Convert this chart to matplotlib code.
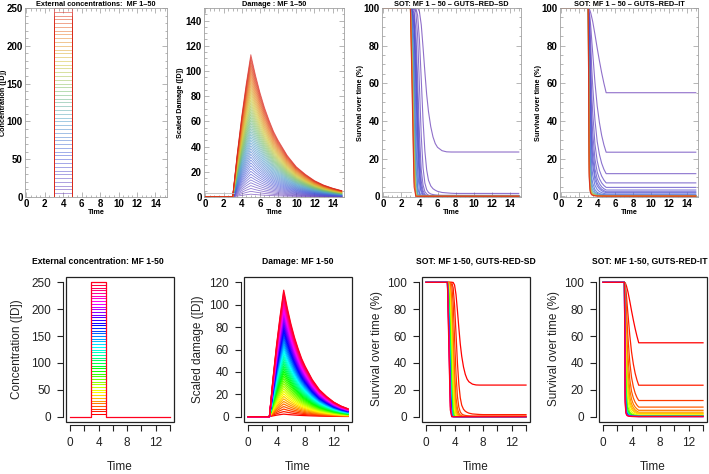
import numpy as np
import matplotlib
matplotlib.use("Agg")
import matplotlib.pyplot as plt
from matplotlib.colors import LinearSegmentedColormap, hsv_to_rgb
from matplotlib.patches import Rectangle

plt.rcParams['font.family'] = ['Liberation Sans', 'DejaVu Sans']

W, H = 709, 474

# multiplication factors 1..50, pulse exposure 3 -> 5 at 5 [D] per MF
mf = list(range(1, 51))
conc_per_mf = 5.0
pulse_on, pulse_off = 3.0, 5.0

# scaled damage of the MF 50 curve (the envelope), other MFs scale with MF/50
dmg_t = [0, 3.0, 3.5, 4.0, 4.5, 5.0, 5.5, 6.0, 6.5, 7.0, 7.5, 8.0, 9.0, 10.0,
         11.0, 12.0, 13.0, 14.0, 15.0]
dmg_mf50 = [0, 0, 34, 64, 90, 113, 97, 83, 71, 61, 52, 45, 33, 24, 18, 13, 9.5, 7, 5]

# survival (%) GUTS-RED-SD, read per curve
sd_t = [0, 3.0, 3.2, 3.4, 3.6, 3.8, 4.0, 4.2, 4.4, 4.6, 4.8, 5.0, 5.25, 5.5,
        5.75, 6.0, 6.5, 7.0, 7.5, 8.0, 15.0]
sd_mfs = [1, 2, 3, 4, 5, 6, 7, 8, 10, 13, 16, 20, 25, 30, 35, 40, 45, 50]
sd_surv = [
    [100, 100, 100, 100, 100, 100, 98, 91, 79, 66, 54, 45, 37, 31.5, 28, 26, 24.2, 23.6, 23.5, 23.5, 23.5],
    [100, 100, 100, 100, 100, 96, 83, 62, 40, 24, 14, 8.5, 5.5, 4.0, 3.2, 2.6, 2.0, 1.8, 1.6, 1.5, 1.5],
    [100, 100, 100, 100, 98, 85, 58, 32, 15, 7, 3.5, 2.0, 1.2, 0.9, 0.7, 0.6, 0.5, 0.5, 0.5, 0.5, 0.5],
    [100, 100, 100, 99, 88, 62, 33, 14, 6, 2.5, 1.2, 0.6, 0.3, 0.2, 0.1, 0.1, 0, 0, 0, 0, 0],
    [100, 100, 100, 97, 80, 50, 22, 8, 3, 1, 0.4, 0.2, 0.1, 0, 0, 0, 0, 0, 0, 0, 0],
    [100, 100, 99.5, 94, 72, 40, 15, 5, 1.5, 0.4, 0.1, 0, 0, 0, 0, 0, 0, 0, 0, 0, 0],
    [100, 100, 99, 91, 65, 33, 11, 3, 0.7, 0.1, 0, 0, 0, 0, 0, 0, 0, 0, 0, 0, 0],
    [100, 100, 98.5, 88, 58, 26, 7, 1.5, 0.2, 0, 0, 0, 0, 0, 0, 0, 0, 0, 0, 0, 0],
    [100, 100, 97, 80, 45, 14, 2, 0.2, 0, 0, 0, 0, 0, 0, 0, 0, 0, 0, 0, 0, 0],
    [100, 100, 94, 68, 30, 5, 0.3, 0, 0, 0, 0, 0, 0, 0, 0, 0, 0, 0, 0, 0, 0],
    [100, 100, 90, 58, 18, 1.5, 0, 0, 0, 0, 0, 0, 0, 0, 0, 0, 0, 0, 0, 0, 0],
    [100, 100, 85, 46, 9, 0.3, 0, 0, 0, 0, 0, 0, 0, 0, 0, 0, 0, 0, 0, 0, 0],
    [100, 100, 79, 34, 4, 0, 0, 0, 0, 0, 0, 0, 0, 0, 0, 0, 0, 0, 0, 0, 0],
    [100, 100, 73, 25, 1.5, 0, 0, 0, 0, 0, 0, 0, 0, 0, 0, 0, 0, 0, 0, 0, 0],
    [100, 100, 67, 18, 0.5, 0, 0, 0, 0, 0, 0, 0, 0, 0, 0, 0, 0, 0, 0, 0, 0],
    [100, 100, 62, 12, 0.2, 0, 0, 0, 0, 0, 0, 0, 0, 0, 0, 0, 0, 0, 0, 0, 0],
    [100, 100, 57, 8, 0, 0, 0, 0, 0, 0, 0, 0, 0, 0, 0, 0, 0, 0, 0, 0, 0],
    [100, 100, 52, 5, 0, 0, 0, 0, 0, 0, 0, 0, 0, 0, 0, 0, 0, 0, 0, 0, 0],
]

# survival (%) GUTS-RED-IT, read per curve
it_t = [0, 3.0, 3.1, 3.2, 3.3, 3.4, 3.5, 3.75, 4.0, 4.25, 4.5, 4.75, 5.0, 15.0]
it_mfs = [1, 2, 3, 4, 5, 6, 7, 8, 10, 13, 16, 20, 25, 30, 35, 40, 45, 50]
it_surv = [
    [100, 100, 99.7, 98.6, 97.0, 94.9, 92.8, 86.0, 78.7, 71.9, 65.6, 60.0, 55.0, 55.0],
    [100, 100, 98.6, 94.7, 89.1, 82.2, 76.1, 60.5, 48.0, 39.1, 32.3, 27.3, 23.4, 23.4],
    [100, 100, 97.0, 88.9, 78.4, 67.2, 58.6, 40.5, 29.1, 22.2, 17.5, 14.3, 12.0, 12.0],
    [100, 100, 94.7, 81.8, 67.1, 53.5, 44.4, 27.7, 18.8, 13.8, 10.7, 8.6, 7.1, 7.1],
    [100, 100, 92.0, 74.2, 56.6, 42.4, 33.8, 19.7, 12.9, 9.3, 7.1, 5.7, 4.7, 4.7],
    [100, 100, 88.9, 66.6, 47.6, 33.9, 26.2, 14.5, 9.3, 6.7, 5.0, 4.0, 3.3, 3.3],
    [100, 100, 85.4, 59.5, 40.0, 27.3, 20.7, 11.1, 7.0, 5.0, 3.7, 3.0, 2.4, 2.4],
    [100, 100, 81.8, 52.9, 33.8, 22.4, 16.6, 8.7, 5.5, 3.9, 2.9, 2.3, 1.9, 1.9],
    [100, 100, 74.2, 41.8, 24.6, 15.6, 11.3, 5.8, 3.6, 2.5, 1.9, 1.5, 1.2, 1.2],
    [100, 100, 63.0, 29.8, 16.2, 9.8, 7.0, 3.5, 2.1, 1.5, 1.1, 0.9, 0.7, 0.7],
    [100, 100, 52.9, 21.9, 11.3, 6.7, 4.7, 2.3, 1.4, 1.0, 0.7, 0.6, 0.5, 0.5],
    [100, 100, 41.8, 15.2, 7.5, 4.4, 3.1, 1.5, 0.9, 0.6, 0.5, 0.4, 0.3, 0.3],
    [100, 100, 31.5, 10.3, 5.0, 2.9, 2.0, 1.0, 0.6, 0.4, 0.3, 0.2, 0.2, 0.2],
    [100, 100, 24.2, 7.4, 3.5, 2.0, 1.4, 0.7, 0.4, 0.3, 0.2, 0.2, 0.1, 0.1],
    [100, 100, 19.0, 5.5, 2.6, 1.5, 1.0, 0.5, 0.3, 0.2, 0.2, 0.1, 0.1, 0.1],
    [100, 100, 15.2, 4.3, 2.0, 1.1, 0.8, 0.4, 0.2, 0.2, 0.1, 0.1, 0.1, 0.1],
    [100, 100, 12.4, 3.4, 1.6, 0.9, 0.6, 0.3, 0.2, 0.1, 0.1, 0.1, 0.1, 0.1],
    [100, 100, 10.3, 2.8, 1.3, 0.7, 0.5, 0.2, 0.1, 0.1, 0.1, 0.1, 0.05, 0.05],
]

top_titles = ["External concentrations:  MF 1\u201350", "Damage : MF 1\u201350",
              "SOT: MF 1 \u2013 50 \u2013 GUTS\u2013RED\u2013SD",
              "SOT: MF 1 \u2013 50 \u2013 GUTS\u2013RED\u2013IT"]
top_ylabels = ["Concentration ([D])", "Scaled Damage ([D])",
               "Survival over time (%)", "Survival over time (%)"]
bot_titles = ["External concentration: MF 1-50", "Damage: MF 1-50",
              "SOT: MF 1-50, GUTS-RED-SD", "SOT: MF 1-50, GUTS-RED-IT"]
bot_ylabels = ["Concentration ([D])", "Scaled damage ([D])",
               "Survival over time (%)", "Survival over time (%)"]

# Mathematica-like "Rainbow" for the top row, R rainbow(50) for the bottom row
mma = LinearSegmentedColormap.from_list("mma", [
    (0.0, (0.42, 0.25, 0.72)), (0.2, (0.27, 0.35, 0.85)), (0.4, (0.30, 0.62, 0.78)),
    (0.55, (0.45, 0.74, 0.42)), (0.7, (0.82, 0.78, 0.22)), (0.85, (0.92, 0.50, 0.15)),
    (1.0, (0.85, 0.12, 0.10))])


def top_col(k):
    return mma((k - 1) / 49)


def bot_col(k):
    return hsv_to_rgb([(k - 1) / 50, 1, 1])


fig = plt.figure(figsize=(W / 100, H / 100), dpi=100)


def add_ax(l, t, r, b):
    return fig.add_axes([l / W, 1 - b / H, (r - l) / W, (b - t) / H])


def ftext(x, y, s, **kw):
    fig.text(x / W, 1 - y / H, s, ha="center", va="center", **kw)


def pulse(k, t_end=15):
    c = k * conc_per_mf
    return [0, pulse_on, pulse_on, pulse_off, pulse_off, t_end], [0, 0, c, c, 0, 0]


# ---------------- top row (Mathematica style) ----------------
top_boxes = [(25, 167), (204, 344), (382, 521), (560, 698)]
top_ylab_x = [4, 181, 361, 538]
top_ax = [add_ax(l, 8, r, 197) for l, r in top_boxes]
tlw = 0.6

a = top_ax[0]
for k in mf:
    xs, ys = pulse(k)
    a.plot(xs, ys, color=top_col(k), lw=tlw, alpha=0.6)

a = top_ax[1]
for k in mf:
    a.plot(dmg_t, np.array(dmg_mf50) * k / 50, color=top_col(k), lw=tlw, alpha=0.7)
a.plot([0, 3.1], [3, 3], color="#bbbbbb", lw=0.6)

a = top_ax[2]
for k, s in zip(sd_mfs, sd_surv):
    a.plot(sd_t, s, color=top_col(k), lw=0.8, alpha=0.75)
a.plot([0, 3.1], [2.3, 2.3], color="#bbbbbb", lw=0.6)

a = top_ax[3]
for k, s in zip(it_mfs, it_surv):
    a.plot(it_t, s, color=top_col(k), lw=0.8, alpha=0.75)
a.plot([0, 3.1], [2.3, 2.3], color="#bbbbbb", lw=0.6)

top_ylims = [(0, 250), (0, 150), (-0.4, 100), (-0.4, 100)]
top_yticks = [(50, 10), (20, 5), (20, 5), (20, 5)]
for i, a in enumerate(top_ax):
    a.set_xlim(-0.15, 15.25)
    a.set_ylim(*top_ylims[i])
    a.set_xticks(range(0, 15, 2))
    a.set_xticks(np.arange(0, 15.01, 0.5), minor=True)
    step, mstep = top_yticks[i]
    a.set_yticks(np.arange(0, top_ylims[i][1] + 0.1, step))
    a.set_yticks(np.arange(0, top_ylims[i][1] + 0.1, mstep), minor=True)
    a.tick_params(which="both", direction="in", top=True, right=True,
                  color="#999999", width=0.5)
    a.tick_params(which="major", length=3.5, labelsize=7, pad=1.5)
    a.tick_params(which="minor", length=1.8)
    for lab in a.get_xticklabels() + a.get_yticklabels():
        lab.set_fontweight("bold")
    for sp in a.spines.values():
        sp.set_color("#a0a0a0")
        sp.set_linewidth(0.6)
    l, r = top_boxes[i]
    ftext((l + r) / 2, 4, top_titles[i], fontsize=5.3, fontweight="bold")
    ftext((l + r) / 2, 213, "Time", fontsize=5.2, fontweight="bold")
    ftext(top_ylab_x[i], 103, top_ylabels[i], fontsize=5.2, fontweight="bold", rotation=90)

# ---------------- bottom row (R base-graphics style) ----------------
bot_boxes = [(66, 174), (244, 352), (422, 530), (599, 707)]
bot_title_x = [97.5, 298, 476, 650]
bot_ylab_x = [17, 198, 377, 554]
bot_ax = [add_ax(l, 277, r, 422) for l, r in bot_boxes]
blw = 0.9

a = bot_ax[0]
# plateau of each pulse; the MF 50 pulse (drawn last) carries the shared
# baseline and edges that every pulse runs along
for k in mf[:-1]:
    xs, ys = pulse(k, 14)
    a.plot(xs[2:4], ys[2:4], color=bot_col(k), lw=0.75)
xs, ys = pulse(mf[-1], 14)
a.plot(xs, ys, color=bot_col(mf[-1]), lw=0.9)

a = bot_ax[1]
keep = np.array(dmg_t) <= 14
for k in mf:
    a.plot(np.array(dmg_t)[keep], (np.array(dmg_mf50) * k / 50)[keep],
           color=bot_col(k), lw=blw)

a = bot_ax[2]
for k, s in zip(sd_mfs, sd_surv):
    a.plot(np.minimum(sd_t, 14), s, color=bot_col(k), lw=blw)

a = bot_ax[3]
for k, s in zip(it_mfs, it_surv):
    a.plot(np.minimum(it_t, 14), s, color=bot_col(k), lw=blw)

bot_ylims = [(0, 250), (0, 120), (0, 100), (0, 100)]
bot_ystep = [50, 20, 20, 20]
for i, a in enumerate(bot_ax):
    lo, hi = bot_ylims[i]
    ext = 0.04 * (hi - lo)
    a.set_xlim(-0.56, 14.56)
    a.set_ylim(lo - ext, hi + ext)
    a.set_xticks(range(0, 15, 2))
    a.set_xticklabels([str(v) if v % 4 == 0 else "" for v in range(0, 15, 2)])
    a.set_yticks(np.arange(lo, hi + 0.1, bot_ystep[i]))
    a.tick_params(direction="out", length=4, width=0.8, labelsize=8.5, pad=4.5,
                  colors="#222222")
    for side in ("top", "right"):
        a.spines[side].set_visible(False)
    a.spines["bottom"].set_position(("outward", 2.5))
    a.spines["left"].set_position(("outward", 2.5))
    a.spines["bottom"].set_bounds(0, 14)
    a.spines["left"].set_bounds(lo, hi)
    for side in ("bottom", "left"):
        a.spines[side].set_linewidth(0.8)
        a.spines[side].set_color("#222222")
    a.add_patch(Rectangle((0, 0), 1, 1, transform=a.transAxes, fill=False,
                          lw=0.9, ec="#222222", clip_on=False, zorder=5))
    l, r = bot_boxes[i]
    ftext(bot_title_x[i], 261, bot_titles[i], fontsize=6.2, fontweight="bold")
    ftext((l + r) / 2, 467, "Time", fontsize=8.5, color="#222222")
    ftext(bot_ylab_x[i], 349, bot_ylabels[i], fontsize=8.5, rotation=90, color="#222222")

fig.savefig("out.png", dpi=100)
